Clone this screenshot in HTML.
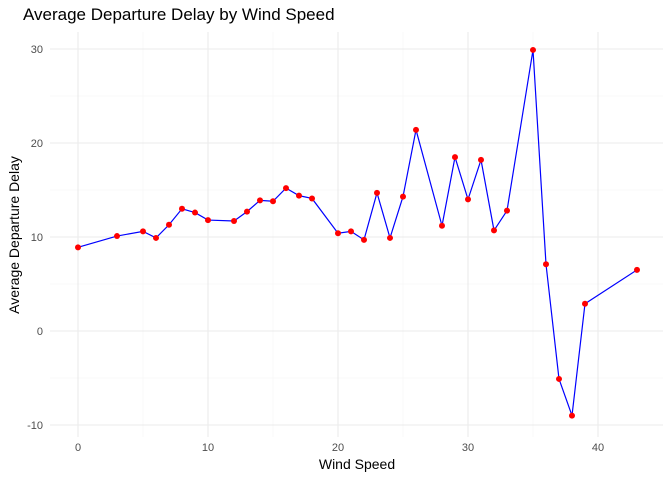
<!DOCTYPE html>
<html><head><meta charset="utf-8"><style>
body{margin:0;background:#fff}
svg text{font-family:"Liberation Sans",sans-serif}
</style></head><body>
<svg id="c" width="672" height="480" xmlns="http://www.w3.org/2000/svg">
<text x="23" y="20" font-size="17" fill="#000">Average Departure Delay by Wind Speed</text>
<text x="357" y="469" font-size="14" text-anchor="middle" fill="#000">Wind Speed</text>
<text transform="translate(19,235) rotate(-90)" font-size="14" text-anchor="middle" fill="#000">Average Departure Delay</text>
<g id="grid"></g><g id="ticks"></g><g id="series"></g>
</svg>
<script>
const windSpeeds=[0,3,5,6,7,8,9,10,12,13,14,15,16,17,18,20,21,22,23,24,25,26,28,29,30,31,32,33,35,36,37,38,39,43];
const avgDelays=[8.9,10.1,10.6,9.9,11.3,13.0,12.6,11.8,11.7,12.7,13.9,13.8,15.2,14.4,14.1,10.4,10.6,9.7,14.7,9.9,14.3,21.4,11.2,18.5,14.0,18.2,10.7,12.8,29.9,7.1,-5.1,-9.0,2.9,6.5];
const xTicks=[0,10,20,30,40];
const yTicks=[-10,0,10,20,30];
const xMinor=[5,15,25,35];
const yMinor=[-5,5,15,25];
const NS="http://www.w3.org/2000/svg";
const sx=v=>78+v*13, sy=v=>331-v*9.4;
const L=50,R=663,T=32,B=437;
function mk(t,a,p){const e=document.createElementNS(NS,t);for(const k in a)e.setAttribute(k,a[k]);document.getElementById(p).appendChild(e);return e;}
xMinor.forEach(v=>{const e=mk('line',{x1:sx(v),x2:sx(v),y1:T,y2:B,stroke:'#f4f4f4','stroke-width':0.6},'grid');

});
yMinor.forEach(v=>{const e=mk('line',{x1:L,x2:R,y1:sy(v),y2:sy(v),stroke:'#f4f4f4','stroke-width':0.6},'grid');

});
xTicks.forEach(v=>{const e=mk('line',{x1:sx(v),x2:sx(v),y1:T,y2:B,stroke:'#ebebeb','stroke-width':1.1},'grid');


const t=mk('text',{x:sx(v),y:451,'font-size':11,'text-anchor':'middle',fill:'#4d4d4d'},'ticks');t.textContent=v;

});
yTicks.forEach(v=>{const e=mk('line',{x1:L,x2:R,y1:sy(v),y2:sy(v),stroke:'#ebebeb','stroke-width':1.1},'grid');


const t=mk('text',{x:43,y:sy(v)+4,'font-size':11,'text-anchor':'end',fill:'#4d4d4d'},'ticks');t.textContent=v;

});
const pl=mk('polyline',{points:windSpeeds.map((w,i)=>sx(w)+','+sy(avgDelays[i])).join(' '),fill:'none',stroke:'#0000ff','stroke-width':1.2},'series');


windSpeeds.forEach((w,i)=>{const c=mk('circle',{cx:sx(w),cy:sy(avgDelays[i]),r:3,fill:'#ff0000'},'series');

});
</script>
</body></html>
